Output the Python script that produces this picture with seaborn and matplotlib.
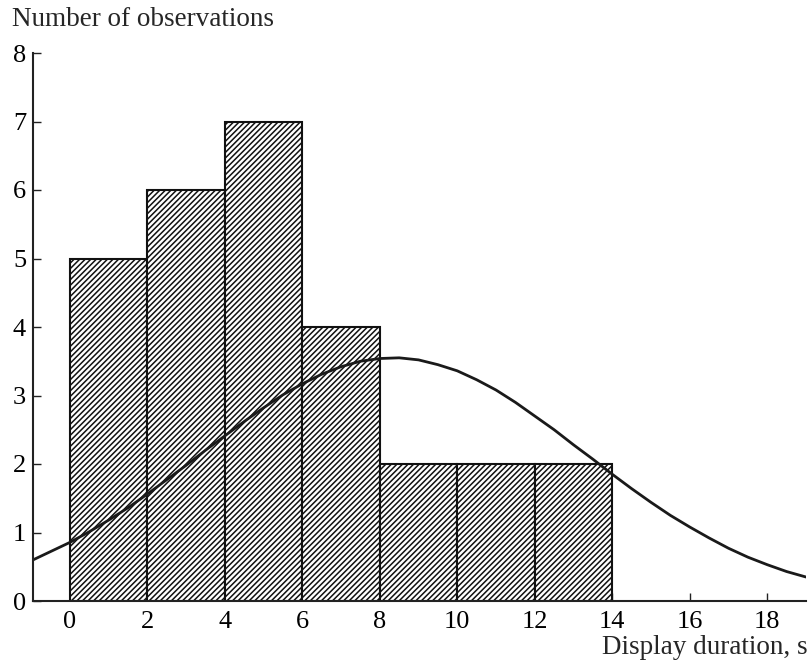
import matplotlib
matplotlib.use("Agg")
import matplotlib.pyplot as plt
import seaborn as sns
import numpy as np
import pandas as pd

# Histogram bins (display duration, s) and counts
bin_edges = [0, 2, 4, 6, 8, 10, 12, 14]
bin_centers = [1, 3, 5, 7, 9, 11, 13]
counts = [5, 6, 7, 4, 2, 2, 2]

# Fitted curve
curve_x = [-0.95, 0, 0.5, 1, 1.5, 2, 2.5, 3, 3.5, 4, 4.5, 5, 5.5, 6, 6.5, 7, 7.5,
           8, 8.5, 9, 9.5, 10, 10.5, 11, 11.5, 12, 12.5, 13, 13.5, 14, 14.5,
           15, 15.5, 16, 16.5, 17, 17.5, 18, 18.5, 19]
curve_y = [0.60, 0.855, 1.01, 1.18, 1.36, 1.56, 1.77, 1.98, 2.20, 2.41, 2.62, 2.82,
           3.01, 3.17, 3.31, 3.42, 3.50, 3.54, 3.55, 3.52, 3.45, 3.36, 3.23, 3.08,
           2.90, 2.70, 2.50, 2.28, 2.07, 1.85, 1.64, 1.44, 1.25, 1.08, 0.92, 0.77,
           0.64, 0.53, 0.43, 0.35]

x_ticks = [0, 2, 4, 6, 8, 10, 12, 14, 16, 18]
y_ticks = [0, 1, 2, 3, 4, 5, 6, 7, 8]

sns.set_style("ticks")
plt.rcParams['font.family'] = ['Liberation Serif', 'DejaVu Serif']
plt.rcParams['hatch.linewidth'] = 1.1
plt.rcParams['hatch.color'] = 'black'

fig = plt.figure(figsize=(8.12, 6.62), dpi=100)
ax = fig.add_axes([33/812, 1 - 601/662, (806 - 33)/812, (601 - 53)/662])

hatch = "//////"
hist_df = pd.DataFrame({"x": bin_centers, "w": counts})
sns.histplot(data=hist_df, x="x", weights="w", bins=bin_edges, ax=ax,
             stat="count", color="white", edgecolor="black", linewidth=1.5,
             alpha=1, hatch=hatch)
for p in ax.patches:
    p.set_hatch(hatch)
    p.set_facecolor("white")
    p.set_edgecolor("#111111")

curve_df = pd.DataFrame({"x": curve_x, "y": curve_y})
sns.lineplot(data=curve_df, x="x", y="y", ax=ax, color="#1a1a1a", linewidth=2.0)

ax.set_xlim(-0.95, 19)
ax.set_ylim(0, 8)
ax.set_xticks(x_ticks)
ax.set_yticks(y_ticks)
ax.tick_params(axis='both', direction='in', length=6, width=1.0, labelsize=19,
               color='#222222', labelcolor='black')
ax.tick_params(axis='x', pad=7)
ax.tick_params(axis='y', pad=5)
sns.despine(ax=ax)
for s in ['left', 'bottom']:
    ax.spines[s].set_linewidth(1.5)
    ax.spines[s].set_color('#222222')
ax.set_xlabel("")
ax.set_ylabel("")

fig.text(12/812, 1 - 20/662, "Number of observations", fontsize=19.5,
         ha='left', va='center')
fig.text(808/812, 1 - 647/662, "Display duration, s", fontsize=19.5,
         ha='right', va='center')

fig.savefig("out.png", dpi=100)
